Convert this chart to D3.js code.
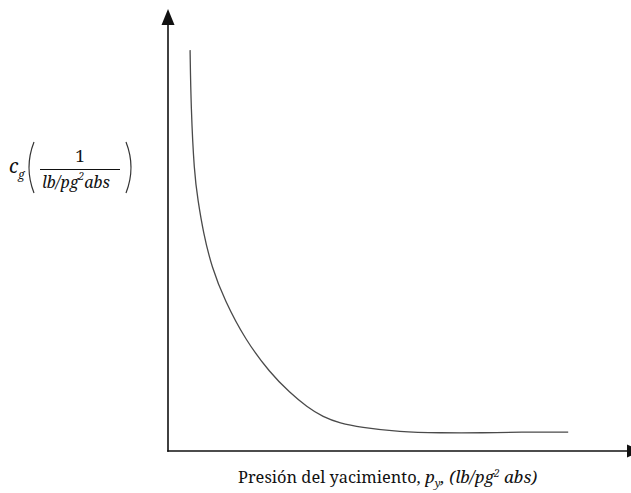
<!DOCTYPE html>
<html><head><meta charset="utf-8">
<script src="https://cdn.jsdelivr.net/npm/d3@7"></script>
<style>body{margin:0;background:#fff}svg{display:block}</style>
</head><body>
<svg id="c" width="631" height="493"></svg>
<script>
// Pressure (relative units, 0-100) and gas compressibility c_g (relative units, 0-100)
const pressure = [4.8, 5.0, 5.7, 6.5, 7.7, 9.5, 12.3, 16.8, 22.2, 26.5, 30.2, 33.7, 37.4, 41.7, 50.4, 59.1, 68.5, 76.5, 87.0];
const cg =       [90.9, 78.0, 63.0, 56.9, 49.4, 41.7, 34.2, 25.2, 17.7, 13.2, 10.0, 7.7, 6.3, 5.4, 4.3, 4.1, 4.1, 4.3, 4.3];
const xTicks = [];
const yTicks = [];

const svg = d3.select("#c");
const x = d3.scaleLinear().domain([0, 100]).range([168, 628]);
const y = d3.scaleLinear().domain([0, 100]).range([451, 10]);

const axisColor = "#111";
const gx = svg.append("g").attr("transform", `translate(0,${y(0)})`)
  .call(d3.axisBottom(x).tickValues(xTicks).tickSizeOuter(0));
const gy = svg.append("g").attr("transform", `translate(${x(0)},0)`)
  .call(d3.axisLeft(y).tickValues(yTicks).tickSizeOuter(0));
gx.select(".domain").attr("stroke", axisColor).attr("stroke-width", 1.6)
  .attr("d", `M${x(0) - 0.8},0H${x(100)}`);
gy.select(".domain").attr("stroke", axisColor).attr("stroke-width", 1.6)
  .attr("d", `M0,${y(0) + 0.8}V24`);

// arrowheads
const ax = x(0);
svg.append("path").attr("d", `M${ax},9 L${ax - 6.5},25 L${ax + 6.5},25 Z`).attr("fill", axisColor);
const ay = y(0);
svg.append("path").attr("d", `M${x(100) - 1},${ay - 6.5} L${x(100) + 14},${ay} L${x(100) - 1},${ay + 6.5} Z`).attr("fill", axisColor);

// curve
const line = d3.line().x((d, i) => x(pressure[i])).y(d => y(d)).curve(d3.curveBasis);
svg.append("path").attr("d", line(cg)).attr("fill", "none")
  .attr("stroke", "#4a4a4a").attr("stroke-width", 1.3);

// y label
const serif = "Noto Serif";
const yl = svg.append("g").style("font-family", serif).attr("fill", "#111");
yl.append("text").attr("x", 9).attr("y", 173).attr("font-size", 19).attr("font-style", "italic").text("c");
yl.append("text").attr("x", 18).attr("y", 179).attr("font-size", 12).attr("font-style", "italic").text("g");
// parentheses
yl.append("path").attr("d", "M34,142 Q24,167.5 34,193").attr("fill", "none").attr("stroke", "#333").attr("stroke-width", 1.2);
yl.append("path").attr("d", "M126,142 Q136,167.5 126,193").attr("fill", "none").attr("stroke", "#333").attr("stroke-width", 1.2);
yl.append("text").attr("x", 80).attr("y", 162).attr("font-size", 17).attr("text-anchor", "middle").text("1");
yl.append("line").attr("x1", 40).attr("x2", 120).attr("y1", 169.5).attr("y2", 169.5).attr("stroke", "#111").attr("stroke-width", 1.2);
const den = yl.append("text").attr("x", 42).attr("y", 188).attr("font-size", 16).attr("font-style", "italic");
den.append("tspan").text("lb/pg");
den.append("tspan").attr("font-size", 10).attr("dy", -8).text("2");
den.append("tspan").attr("dy", 8).text("abs");

// x label
const xl = svg.append("text").attr("x", 238).attr("y", 483).style("font-family", serif)
  .attr("font-size", 16.4).attr("fill", "#111");
xl.append("tspan").text("Presión del yacimiento, ");
xl.append("tspan").attr("font-style", "italic").attr("font-size", 17).text("p");
xl.append("tspan").attr("font-style", "italic").attr("font-size", 11).attr("dy", 4).text("y");
xl.append("tspan").attr("font-style", "italic").attr("font-size", 17).attr("dy", -4).text(", (lb/pg");
xl.append("tspan").attr("font-style", "italic").attr("font-size", 10).attr("dy", -6).text("2");
xl.append("tspan").attr("font-style", "italic").attr("font-size", 17).attr("dy", 6).text(" abs)");
</script>
</body></html>
